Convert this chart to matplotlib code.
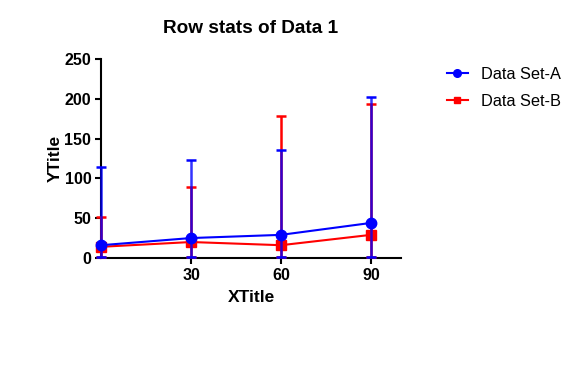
import matplotlib
matplotlib.use("Agg")
import matplotlib.pyplot as plt
from matplotlib.lines import Line2D
import numpy as np

plt.rcParams['font.family'] = ['Liberation Sans', 'DejaVu Sans']

x = [0, 30, 60, 90]
a_mean = [16, 25, 29, 44]
a_low = [1, 1, 1, 1]
a_high = [114, 123, 136, 202]
b_mean = [14, 20, 16, 29]
b_low = [1, 1, 1, 1]
b_high = [52, 89, 179, 193]

fig = plt.figure(figsize=(5.81, 3.76), dpi=100)
ax = fig.add_axes([0.174, 0.314, 0.516, 0.529])

def err(m, lo, hi):
    m = np.array(m); return [m - np.array(lo), np.array(hi) - m]

eb_b = ax.errorbar(x, b_mean, yerr=err(b_mean, b_low, b_high), color='#ff0000', marker='s',
            markersize=7, lw=1.5, elinewidth=1.8, capsize=3.5, capthick=1.8,
            zorder=3, clip_on=False)
eb_a = ax.errorbar(x, a_mean, yerr=err(a_mean, a_low, a_high), color='#0000ff', marker='o',
            markersize=7.5, lw=1.5, elinewidth=1.8, capsize=3.5, capthick=1.8,
            zorder=4, clip_on=False)
for c in eb_a[2]:
    c.set_alpha(0.8)

ax.set_xlim(0, 100)
ax.set_ylim(0, 250)
ax.set_xticks([30, 60, 90])
ax.set_yticks([0, 50, 100, 150, 200, 250])
for s in ['top', 'right']:
    ax.spines[s].set_visible(False)
for s in ['left', 'bottom']:
    ax.spines[s].set_linewidth(1.5)
ax.tick_params(width=1.5, length=4, labelsize=11.5, pad=3)
for lab in ax.get_xticklabels() + ax.get_yticklabels():
    lab.set_fontweight('bold')
ax.set_xlabel('XTitle', fontsize=12.5, fontweight='bold', labelpad=5)
ax.set_ylabel('YTitle', fontsize=12.5, fontweight='bold', labelpad=1.5)
ax.set_title('Row stats of Data 1', fontsize=13.7, fontweight='bold', pad=19)

handles = [Line2D([], [], color='#0000ff', marker='o', markersize=5.5, lw=1.5),
           Line2D([], [], color='#ff0000', marker='s', markersize=5, lw=1.5)]
ax.legend(handles, ['Data Set-A', 'Data Set-B'], loc='upper left', bbox_to_anchor=(1.103, 1.035),
          frameon=False, fontsize=11.8, handlelength=1.3, handletextpad=0.8,
          labelspacing=0.75)

fig.savefig('out.png', dpi=100)
